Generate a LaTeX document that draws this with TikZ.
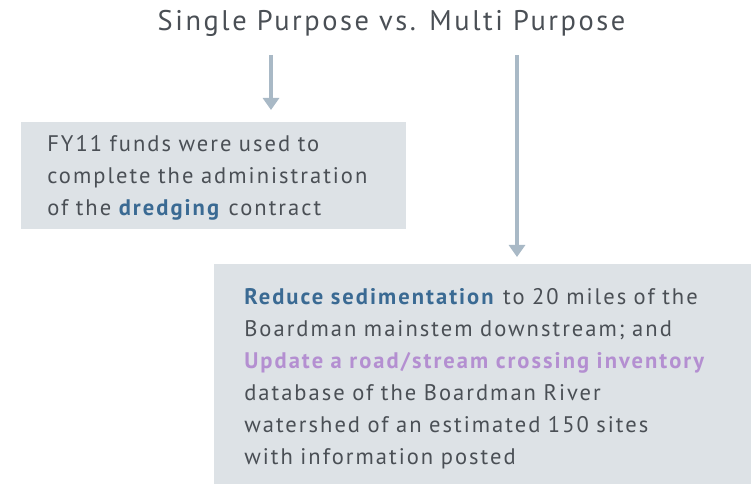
\documentclass[tikz,border=0pt]{standalone}
\usepackage{fontspec}
\setmainfont{PT Sans}
\usepackage{xcolor}
\usepackage{tikz}
\usetikzlibrary{arrows.meta}

\definecolor{inkgray}{HTML}{4A4F55}
\definecolor{panelgray}{HTML}{DDE2E6}
\definecolor{flowgray}{HTML}{A9B9C6}
\definecolor{hiblue}{HTML}{3A6A93}
\definecolor{hipurple}{HTML}{B48FD1}

\newfontfamily\panelfont[LetterSpace=9]{PT Sans}
\newfontfamily\headfont[LetterSpace=9]{PT Sans}

\tikzset{
  panel/.style={fill=panelgray, anchor=north west, inner ysep=0pt, align=left,
    text=inkgray, font=\panelfont\fontsize{16.9pt}{24pt}\selectfont},
  flow/.style={draw=flowgray, line width=3pt, -{Triangle[width=12pt,length=9pt]}}
}

\begin{document}
\begin{tikzpicture}[x=0.75pt,y=0.75pt,yscale=-1,xscale=1]
\useasboundingbox (0,0) rectangle (751,484);

% Title
\node (title) at (391.5,31) [anchor=base, text=inkgray, font=\headfont\fontsize{21.3pt}{25pt}\selectfont] {Single Purpose vs. Multi Purpose};

% Left panel
\node (single) at (21,122) [panel, inner xsep=19.5pt, text width=249.75pt, minimum width=288.75pt, minimum height=80.25pt]
  {\rule{0pt}{15.5pt}FY11 funds were used to\\ complete the administration\\ of the \textcolor{hiblue}{\textbf{dredging}} contract};

% Right panel
\node (multi) at (214,264) [panel, inner xsep=22.5pt, text width=357.75pt, minimum width=402.75pt, minimum height=165pt]
  {\rule{0pt}{18.5pt}\textcolor{hiblue}{\textbf{Reduce sedimentation}} to 20 miles of the\\
   Boardman mainstem downstream; and\\
   \textcolor{hipurple}{\textbf{Update a road/stream crossing inventory}}\\
   database of the Boardman River\\
   watershed of an estimated 150 sites\\
   with information posted};

% Arrows
\coordinate (sp) at (271,55);
\coordinate (mp) at (517,55);
\draw[flow, shorten >=9pt] (sp) -- (sp |- single.north);
\draw[flow, shorten >=5.25pt] (mp) -- (mp |- multi.north);

\end{tikzpicture}
\end{document}
